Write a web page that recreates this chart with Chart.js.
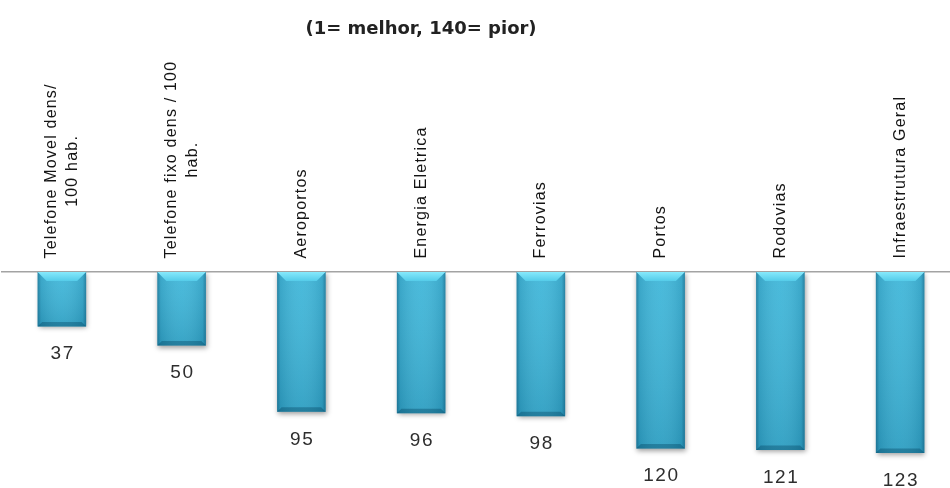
<!DOCTYPE html>
<html>
<head>
<meta charset="utf-8">
<script src="https://cdn.jsdelivr.net/npm/chart.js@4/dist/chart.umd.min.js"></script>
<style>
html,body{margin:0;padding:0;background:#ffffff;overflow:hidden;}
canvas{display:block;}
</style>
</head>
<body>
<canvas id="c" width="960" height="488"></canvas>
<script>
// ---- data ----
const titleText = '(1= melhor, 140= pior)';
const categories = [
  ['Telefone Movel dens/', '100 hab.'],
  ['Telefone fixo dens / 100', 'hab.'],
  'Aeroportos',
  'Energia Eletrica',
  'Ferrovias',
  'Portos',
  'Rodovias',
  'Infraestrutura Geral'
];
const rankings = [37, 50, 95, 96, 98, 120, 121, 123];
const rankMin = 0;
const rankMax = 140;

// ---- plugins ----
const barShadow = {
  id: 'barShadow',
  beforeDatasetDraw(chart) {
    const ctx = chart.ctx;
    ctx.save();
    ctx.shadowColor = 'rgba(0,0,0,0.38)';
    ctx.shadowBlur = 5;
    ctx.shadowOffsetX = 1;
    ctx.shadowOffsetY = 2;
  },
  afterDatasetDraw(chart) {
    chart.ctx.restore();
  }
};

const bevel = {
  id: 'bevel',
  afterDatasetsDraw(chart) {
    const ctx = chart.ctx;
    const meta = chart.getDatasetMeta(0);
    ctx.save();
    meta.data.forEach((bar) => {
      const p = bar.getProps(['x', 'y', 'base', 'width'], true);
      const L = p.x - p.width / 2, R = p.x + p.width / 2;
      const T = Math.min(p.y, p.base), B = Math.max(p.y, p.base);
      const b = Math.min(9, (B - T) / 3);
      const vg = ctx.createLinearGradient(0, T, 0, B);
      vg.addColorStop(0, 'rgba(255,255,255,0.06)');
      vg.addColorStop(1, 'rgba(0,40,70,0.14)');
      ctx.fillStyle = vg;
      ctx.fillRect(L, T, R - L, B - T);
      const g = ctx.createLinearGradient(L, 0, R, 0);
      g.addColorStop(0, 'rgba(0,50,80,0.40)');
      g.addColorStop(0.07, 'rgba(0,50,80,0.12)');
      g.addColorStop(0.5, 'rgba(255,255,255,0.04)');
      g.addColorStop(0.93, 'rgba(0,50,80,0.12)');
      g.addColorStop(1, 'rgba(0,50,80,0.40)');
      ctx.fillStyle = g;
      ctx.fillRect(L, T, R - L, B - T);
      ctx.beginPath();
      ctx.moveTo(L, T); ctx.lineTo(R, T); ctx.lineTo(R - b, T + b); ctx.lineTo(L + b, T + b);
      ctx.closePath();
      const tg = ctx.createLinearGradient(0, T, 0, T + b);
      tg.addColorStop(0, '#86e9fc');
      tg.addColorStop(1, '#55cce9');
      ctx.fillStyle = tg;
      ctx.fill();
      const bb = b * 0.5;
      ctx.beginPath();
      ctx.moveTo(L, B); ctx.lineTo(R, B); ctx.lineTo(R - bb, B - bb); ctx.lineTo(L + bb, B - bb);
      ctx.closePath();
      ctx.fillStyle = 'rgba(0,60,90,0.35)';
      ctx.fill();
    });
    ctx.restore();
  }
};

const valueLabels = {
  id: 'valueLabels',
  afterDatasetsDraw(chart) {
    const ctx = chart.ctx;
    const meta = chart.getDatasetMeta(0);
    const values = chart.data.datasets[0].data;
    ctx.save();
    ctx.font = '19px "Liberation Sans", Arial, sans-serif';
    ctx.letterSpacing = '1.5px';
    ctx.fillStyle = '#2e2e2e';
    ctx.textAlign = 'center';
    ctx.textBaseline = 'middle';
    meta.data.forEach((bar, i) => {
      const p = bar.getProps(['x', 'y', 'base'], true);
      const bottom = Math.max(p.y, p.base);
      ctx.fillText(String(values[i]), p.x + 0.75, bottom + 27.5);
    });
    ctx.restore();
  }
};

const categoryLabels = {
  id: 'categoryLabels',
  afterDraw(chart) {
    const ctx = chart.ctx;
    const xs = chart.scales.x;
    const top = chart.chartArea.top;
    const gap = 13.5, lh = 21;
    ctx.save();
    ctx.font = '16px "Liberation Sans", Arial, sans-serif';
    ctx.letterSpacing = '1.2px';
    ctx.fillStyle = '#141414';
    ctx.textAlign = 'center';
    ctx.textBaseline = 'middle';
    chart.data.labels.forEach((lab, i) => {
      const lines = Array.isArray(lab) ? lab : [lab];
      const maxW = Math.max(...lines.map(l => ctx.measureText(l).width));
      const cx = xs.getPixelForValue(i);
      ctx.save();
      ctx.translate(cx, top - gap - maxW / 2);
      ctx.rotate(-Math.PI / 2);
      lines.forEach((l, j) => {
        const off = (j - (lines.length - 1) / 2) * lh;
        ctx.fillText(l, 0, off);
      });
      ctx.restore();
    });
    ctx.restore();
  }
};

const titleDraw = {
  id: 'titleDraw',
  afterDraw(chart) {
    const ctx = chart.ctx;
    ctx.save();
    ctx.font = 'bold 18px "DejaVu Sans", sans-serif';
    ctx.fillStyle = '#222222';
    ctx.textAlign = 'center';
    ctx.textBaseline = 'middle';
    ctx.fillText(titleText, 421, 29);
    ctx.restore();
  }
};

new Chart(document.getElementById('c'), {
  type: 'bar',
  data: {
    labels: categories,
    datasets: [{
      data: rankings,
      backgroundColor: '#37b3d7',
      borderWidth: 0,
      barPercentage: 0.405,
      categoryPercentage: 1.0
    }]
  },
  options: {
    responsive: false,
    animation: false,
    events: [],
    layout: { padding: { left: 2, right: 0, top: 272, bottom: 10 } },
    plugins: { legend: { display: false }, tooltip: { enabled: false }, title: { display: false } },
    scales: {
      x: {
        position: 'top',
        grid: { display: false, drawTicks: false },
        ticks: { display: false },
        border: { display: true, color: '#a3a3a3', width: 1.5 }
      },
      y: {
        display: false,
        reverse: true,
        min: rankMin,
        max: rankMax
      }
    }
  },
  plugins: [barShadow, bevel, valueLabels, categoryLabels, titleDraw]
});
</script>
</body>
</html>
